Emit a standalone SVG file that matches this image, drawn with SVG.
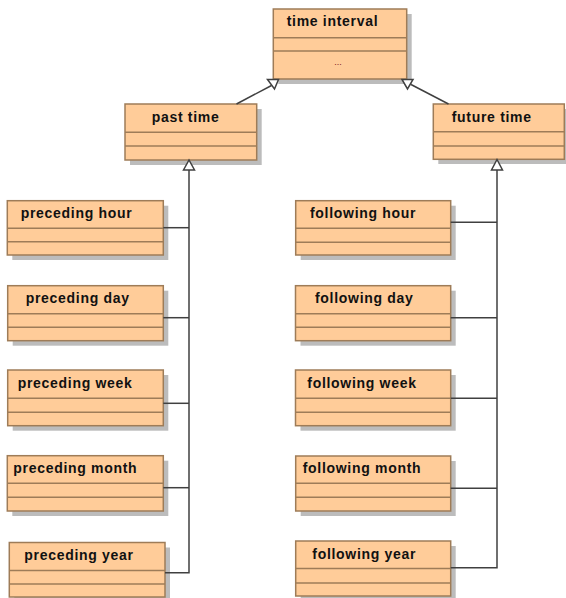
<svg xmlns="http://www.w3.org/2000/svg" width="566" height="598" viewBox="0 0 566 598">
<style>
.sh{fill:#bcbcbc}
.bx{fill:#ffcc99;stroke:#9e7c58;stroke-width:1.5}
.dv{stroke:#9e7c58;stroke-width:1.5}
.t{font-family:"Liberation Sans",Arial,sans-serif;font-weight:bold;font-size:14px;letter-spacing:0.7px;fill:#111}
.c{fill:none;stroke:#404040;stroke-width:1.5}
.ah{fill:#fff;stroke:#404040;stroke-width:1.5;stroke-linejoin:miter}
</style>
<rect width="566" height="598" fill="#fff"/>
<g id="time-interval">
<rect class="sh" x="278.3" y="14" width="133.4" height="70"/>
<rect class="bx" x="273.3" y="9" width="133.4" height="70"/>
<line class="dv" x1="273.3" y1="37.7" x2="406.7" y2="37.7"/>
<line class="dv" x1="273.3" y1="51" x2="406.7" y2="51"/>
<text class="t" x="286.7" y="26">time interval</text>
<text x="338" y="65" font-family="Liberation Sans,Arial,sans-serif" font-size="9" fill="#802020" text-anchor="middle">...</text>
</g>
<g id="past-time">
<rect class="sh" x="130" y="109" width="131.7" height="56"/>
<rect class="bx" x="125" y="104" width="131.7" height="56"/>
<line class="dv" x1="125" y1="132.3" x2="256.7" y2="132.3"/>
<line class="dv" x1="125" y1="146" x2="256.7" y2="146"/>
<text class="t" x="151.7" y="121.5">past time</text>
</g>
<g id="future-time">
<rect class="sh" x="438.3" y="109" width="131" height="55"/>
<rect class="bx" x="433.3" y="104" width="131" height="55.3"/>
<line class="dv" x1="433.3" y1="131.7" x2="564.3" y2="131.7"/>
<line class="dv" x1="433.3" y1="146" x2="564.3" y2="146"/>
<text class="t" x="451.7" y="121.5">future time</text>
</g>
<g id="preceding-hour">
<rect class="sh" x="12.3" y="205.7" width="156" height="54.3"/>
<rect class="bx" x="7.3" y="200.7" width="156" height="54.3"/>
<line class="dv" x1="7.3" y1="228.3" x2="163.3" y2="228.3"/>
<line class="dv" x1="7.3" y1="241.7" x2="163.3" y2="241.7"/>
<text class="t" x="20.7" y="218.2">preceding hour</text>
</g>
<g id="preceding-day">
<rect class="sh" x="12.7" y="290.7" width="155.6" height="55"/>
<rect class="bx" x="7.7" y="285.7" width="155.6" height="55"/>
<line class="dv" x1="7.7" y1="313.7" x2="163.3" y2="313.7"/>
<line class="dv" x1="7.7" y1="327.3" x2="163.3" y2="327.3"/>
<text class="t" x="25.7" y="303.2">preceding day</text>
</g>
<g id="preceding-week">
<rect class="sh" x="12.7" y="375" width="155.6" height="55.7"/>
<rect class="bx" x="7.7" y="370" width="155.6" height="55.7"/>
<line class="dv" x1="7.7" y1="398.3" x2="163.3" y2="398.3"/>
<line class="dv" x1="7.7" y1="412.3" x2="163.3" y2="412.3"/>
<text class="t" x="17.7" y="387.5">preceding week</text>
</g>
<g id="preceding-month">
<rect class="sh" x="12.3" y="460.7" width="156" height="55.3"/>
<rect class="bx" x="7.3" y="455.7" width="156" height="55.3"/>
<line class="dv" x1="7.3" y1="483.3" x2="163.3" y2="483.3"/>
<line class="dv" x1="7.3" y1="497.3" x2="163.3" y2="497.3"/>
<text class="t" x="13.3" y="473.2">preceding month</text>
</g>
<g id="preceding-year">
<rect class="sh" x="14.3" y="547.5" width="155.7" height="54.5"/>
<rect class="bx" x="9.3" y="542.5" width="155.7" height="54.5"/>
<line class="dv" x1="9.3" y1="570.5" x2="165" y2="570.5"/>
<line class="dv" x1="9.3" y1="584" x2="165" y2="584"/>
<text class="t" x="24.3" y="560">preceding year</text>
</g>
<g id="following-hour">
<rect class="sh" x="300.7" y="205.7" width="155" height="54.3"/>
<rect class="bx" x="295.7" y="200.7" width="155" height="54.3"/>
<line class="dv" x1="295.7" y1="228.3" x2="450.7" y2="228.3"/>
<line class="dv" x1="295.7" y1="242.3" x2="450.7" y2="242.3"/>
<text class="t" x="310" y="218.2">following hour</text>
</g>
<g id="following-day">
<rect class="sh" x="300.5" y="290.7" width="155.2" height="55"/>
<rect class="bx" x="295.5" y="285.7" width="155.2" height="55"/>
<line class="dv" x1="295.5" y1="313.7" x2="450.7" y2="313.7"/>
<line class="dv" x1="295.5" y1="327.3" x2="450.7" y2="327.3"/>
<text class="t" x="315" y="303.2">following day</text>
</g>
<g id="following-week">
<rect class="sh" x="300.5" y="375" width="155.2" height="55.7"/>
<rect class="bx" x="295.5" y="370" width="155.2" height="55.7"/>
<line class="dv" x1="295.5" y1="398.3" x2="450.7" y2="398.3"/>
<line class="dv" x1="295.5" y1="412.3" x2="450.7" y2="412.3"/>
<text class="t" x="307.3" y="387.5">following week</text>
</g>
<g id="following-month">
<rect class="sh" x="300.7" y="461" width="155" height="55"/>
<rect class="bx" x="295.7" y="456" width="155" height="55"/>
<line class="dv" x1="295.7" y1="483.3" x2="450.7" y2="483.3"/>
<line class="dv" x1="295.7" y1="497.3" x2="450.7" y2="497.3"/>
<text class="t" x="302.7" y="473.2">following month</text>
</g>
<g id="following-year">
<rect class="sh" x="300.7" y="546" width="155" height="55"/>
<rect class="bx" x="295.7" y="541" width="155" height="55"/>
<line class="dv" x1="295.7" y1="568.5" x2="450.7" y2="568.5"/>
<line class="dv" x1="295.7" y1="583" x2="450.7" y2="583"/>
<text class="t" x="312.3" y="558.5">following year</text>
</g>
<g id="connectors">
<line class="c" x1="236.5" y1="104" x2="271.5" y2="85.5"/>
<polygon class="ah" points="267.5,79.5 278.5,79.5 274.5,89"/>
<line class="c" x1="448.5" y1="104" x2="411" y2="84.5"/>
<polygon class="ah" points="402,79.5 413,79.5 407.5,89"/>
<polyline class="c" points="189,170 189,572.7 165,572.7"/>
<line class="c" x1="163.3" y1="227.7" x2="189" y2="227.7"/>
<line class="c" x1="163.3" y1="317.7" x2="189" y2="317.7"/>
<line class="c" x1="163.3" y1="403.3" x2="189" y2="403.3"/>
<line class="c" x1="163.3" y1="487.7" x2="189" y2="487.7"/>
<polygon class="ah" points="189,160 183.5,170 194.5,170"/>
<polyline class="c" points="497,170 497,567.7 450.7,567.7"/>
<line class="c" x1="450.7" y1="222.3" x2="497" y2="222.3"/>
<line class="c" x1="450.7" y1="317.7" x2="497" y2="317.7"/>
<line class="c" x1="450.7" y1="398.3" x2="497" y2="398.3"/>
<line class="c" x1="450.7" y1="488.3" x2="497" y2="488.3"/>
<polygon class="ah" points="497,159.5 491.5,170 502.5,170"/>
</g>
</svg>
